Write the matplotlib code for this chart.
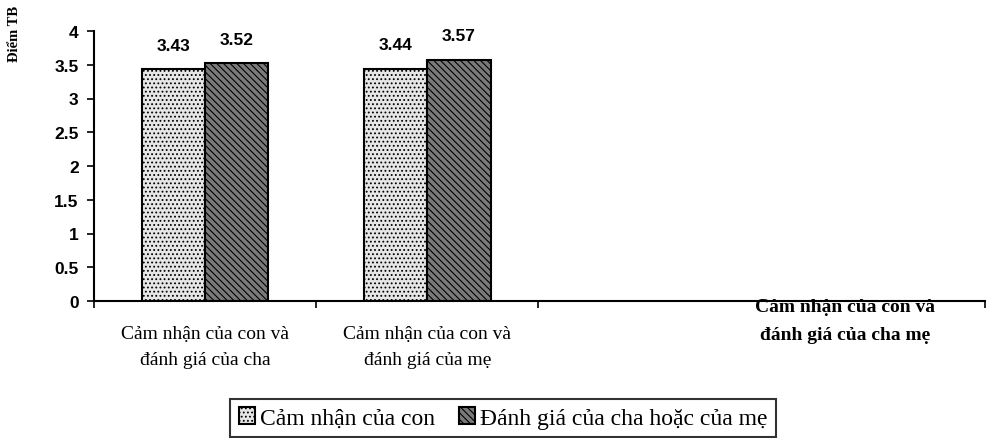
import numpy as np
import matplotlib
matplotlib.use("Agg")
import matplotlib.pyplot as plt

categories = ["Cảm nhận của con và\nđánh giá của cha",
              "Cảm nhận của con và\nđánh giá của mẹ",
              "Cảm nhận của con và\nđánh giá của cha mẹ"]
series_names = ["Cảm nhận của con", "Đánh giá của cha hoặc của mẹ"]
cam_nhan_con = [3.43, 3.44, np.nan]
danh_gia_cha_me = [3.52, 3.57, np.nan]
y_ticks = [0, 0.5, 1, 1.5, 2, 2.5, 3, 3.5, 4]
y_tick_labels = ["0", "0.5", "1", "1.5", "2", "2.5", "3", "3.5", "4"]

plt.rcParams['hatch.linewidth'] = 0.8
W, H = 994, 439
fig = plt.figure(figsize=(W/100, H/100), dpi=100)
ax = fig.add_axes([94/W, (H-302)/H, (985-94)/W, (302-32)/H])

x = np.arange(len(categories)) + 0.5
bw = 0.285
b1 = ax.bar(x[:2] - bw/2, cam_nhan_con[:2], bw, facecolor="#e6e6e6", edgecolor="black",
            hatch="....", linewidth=1.5, label=series_names[0])
b2 = ax.bar(x[:2] + bw/2, danh_gia_cha_me[:2], bw, facecolor="#7a7a7a", edgecolor="black",
            hatch="\\\\\\\\\\", linewidth=1.5, label=series_names[1])

for bars, vals, off in ((b1, cam_nhan_con, 12), (b2, danh_gia_cha_me, 12)):
    for r, v in zip(bars, vals):
        ax.annotate(f"{v:.2f}", (r.get_x() + r.get_width()/2, v), xytext=(0, off),
                    textcoords="offset points", ha="center", va="bottom",
                    fontsize=12.5, fontweight="bold", family="Liberation Sans")

ax.set_ylim(0, 4)
ax.set_xlim(0, 4.01)
ax.set_yticks(y_ticks)
ax.set_yticklabels(y_tick_labels, fontsize=12.5, fontweight="bold", family="Liberation Sans")
ax.tick_params(axis="y", length=5, width=1.2, direction="out", pad=6)
ax.set_xticks([0, 1, 2, 4.01])
ax.set_xticklabels([])
ax.tick_params(axis="x", length=5, width=1.2, direction="out")
for lab, xc in zip(categories[:2], x[:2]):
    ax.text(xc, -0.35, lab, ha="center", va="top", fontsize=14,
            family="Liberation Serif", linespacing=1.7)
ax.text(3.38, 0.05, categories[2], ha="center", va="top", fontsize=14,
        family="Liberation Serif", fontweight="bold", linespacing=1.85)

for s in ("top", "right"):
    ax.spines[s].set_visible(False)
for s in ("left", "bottom"):
    ax.spines[s].set_linewidth(1.5)

fig.text(14/W, 1 - 34/H, "Điểm TB", rotation=90, ha="center", va="center",
         fontsize=10.5, fontweight="bold", family="Liberation Serif")

leg = fig.legend(handles=[b1, b2], loc="center", bbox_to_anchor=(503/W, 1 - 419/H),
                 ncol=2, frameon=True, fancybox=False, edgecolor="black",
                 prop={"family": "Liberation Serif", "size": 17},
                 handlelength=0.7, handleheight=0.7, handletextpad=0.2,
                 columnspacing=1.0, borderpad=0.35, borderaxespad=0)
leg.get_frame().set_linewidth(1.5)

fig.savefig("out.png", dpi=100)
